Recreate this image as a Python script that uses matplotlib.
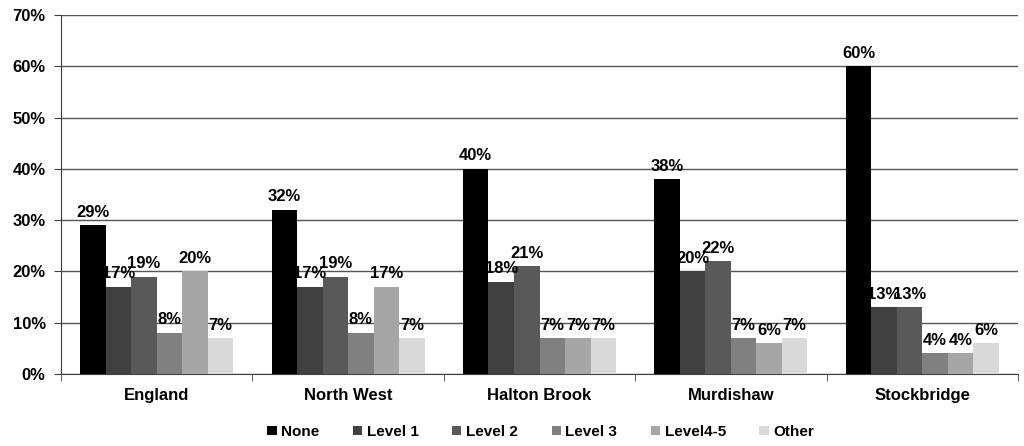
import numpy as np
import matplotlib
matplotlib.use("Agg")
import matplotlib.pyplot as plt
from matplotlib.ticker import PercentFormatter

# Dane
obszary = ["England", "North West", "Halton Brook", "Murdishaw", "Stockbridge"]
poziomy = ["None", "Level 1", "Level 2", "Level 3", "Level4-5", "Other"]
none_v = [29, 32, 40, 38, 60]
level1 = [17, 17, 18, 20, 13]
level2 = [19, 19, 21, 22, 13]
level3 = [8, 8, 7, 7, 4]
level45 = [20, 17, 7, 6, 4]
other = [7, 7, 7, 7, 6]
kolory = ["#000000", "#404040", "#595959", "#808080", "#a6a6a6", "#d9d9d9"]

serie = [none_v, level1, level2, level3, level45, other]

plt.rcParams['font.family'] = ['Liberation Sans', 'DejaVu Sans']
plt.rcParams['font.weight'] = 'bold'

fig = plt.figure(figsize=(10.24, 4.46), dpi=100)
ax = fig.add_axes([61 / 1024, (446 - 374) / 446, (1018 - 61) / 1024, (374 - 15) / 446])

n = len(poziomy)
gap = 1.5
w = 1.0 / (n + gap)
x = np.arange(len(obszary))

for i, (wartosci, kolor, nazwa) in enumerate(zip(serie, kolory, poziomy)):
    pozycje = x - 0.5 + w * gap / 2 + w * (i + 0.5)
    ax.bar(pozycje, wartosci, width=w, color=kolor, label=nazwa, zorder=3)
    for px, v in zip(pozycje, wartosci):
        ax.annotate(f"{v}%", (px, v), xytext=(0, 4), textcoords='offset points',
                    ha='center', va='bottom', fontsize=12, fontweight='bold', zorder=4)

ax.set_xlim(-0.5, len(obszary) - 0.5)
ax.set_ylim(0, 70)
ax.set_yticks(range(0, 71, 10))
ax.yaxis.set_major_formatter(PercentFormatter(decimals=0))
ax.set_xticks(x)
ax.set_xticklabels(obszary, fontsize=12, fontweight='bold')
ax.set_xticks(np.arange(-0.5, len(obszary)), minor=True)
ax.tick_params(axis='x', which='major', length=0, pad=10)
ax.tick_params(axis='x', which='minor', length=5, color='#404040', direction='out')
ax.tick_params(axis='y', labelsize=12, length=5, pad=6, color='#404040', direction='out')
for t in ax.get_yticklabels():
    t.set_fontweight('bold')

ax.grid(axis='y', color='#555555', linewidth=1, zorder=0)
for s in ['top', 'right']:
    ax.spines[s].set_visible(False)
ax.spines['left'].set_color('#404040')
ax.spines['bottom'].set_color('#404040')

leg = fig.legend(loc='lower center', bbox_to_anchor=(0.528, -0.015), ncol=n, frameon=False,
                 fontsize=11, handlelength=0.6, handleheight=0.6, handletextpad=0.3,
                 columnspacing=2.2)
for t in leg.get_texts():
    t.set_fontweight('bold')

fig.savefig("out.png", dpi=100)
